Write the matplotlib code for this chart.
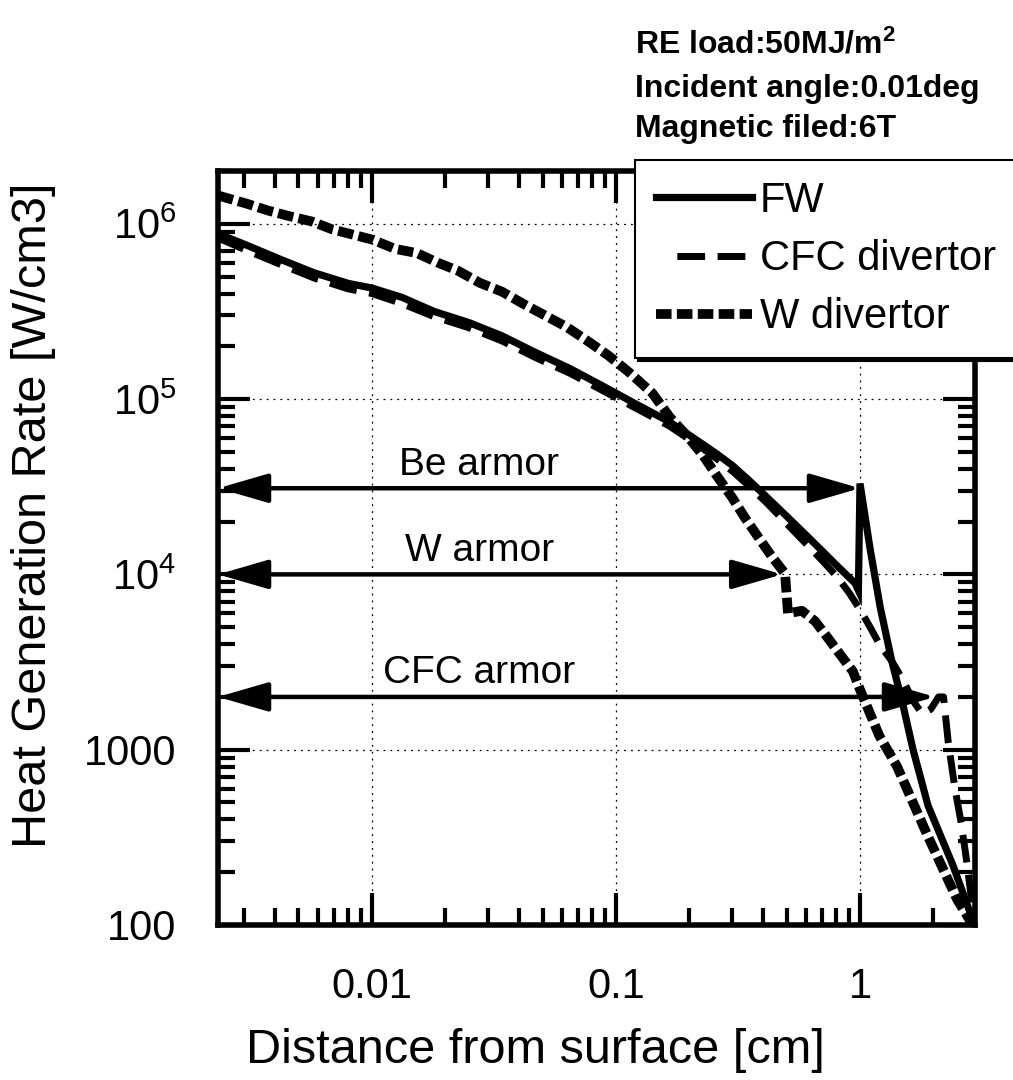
import matplotlib
matplotlib.use("Agg")
import matplotlib.pyplot as plt
from matplotlib.lines import Line2D
from matplotlib.ticker import FixedLocator, LogLocator, NullFormatter

plt.rcParams['font.family'] = ['Liberation Sans', 'DejaVu Sans']
plt.rcParams['mathtext.fontset'] = 'custom'
plt.rcParams['mathtext.rm'] = 'Liberation Sans'
plt.rcParams['mathtext.it'] = 'Liberation Sans:italic'
plt.rcParams['mathtext.bf'] = 'Liberation Sans:bold'

# ---------------- data ----------------
fw_x = [0.00234, 0.0031, 0.0043, 0.0058, 0.008, 0.01, 0.0133, 0.018, 0.025, 0.034,
        0.047, 0.065, 0.088, 0.122, 0.166, 0.228, 0.26, 0.302, 0.35, 0.416, 0.5,
        0.6, 0.7, 0.8, 0.955, 0.985, 1.0, 1.1, 1.21, 1.35, 1.5, 1.65, 1.9, 2.4, 2.95]
fw_y = [8.8e5, 7.5e5, 6.2e5, 5.25e5, 4.57e5, 4.3e5, 3.8e5, 3.16e5, 2.73e5, 2.3e5,
        1.84e5, 1.49e5, 1.19e5, 9.3e4, 7.4e4, 5.5e4, 4.85e4, 4.15e4, 3.45e4, 2.75e4, 2.15e4,
        1.68e4, 1.36e4, 1.13e4, 8.9e3, 8.1e3, 3.3e4, 1.4e4, 6.5e3, 3.2e3, 1.8e3, 1.0e3,
        480, 220, 100]

cfc_x = [0.00234, 0.0031, 0.0043, 0.0058, 0.008, 0.01, 0.0133, 0.018, 0.025, 0.034,
         0.047, 0.065, 0.088, 0.122, 0.166, 0.228, 0.26, 0.302, 0.35, 0.416, 0.5,
         0.6, 0.7, 0.8, 0.9, 1.0, 1.1, 1.2, 1.35, 1.5, 1.65, 1.8, 1.95, 2.1, 2.2,
         2.3, 2.45, 2.6, 2.75, 2.95]
cfc_y = [8.3e5, 7.0e5, 5.8e5, 4.9e5, 4.25e5, 4.0e5, 3.5e5, 2.95e5, 2.55e5, 2.15e5,
         1.72e5, 1.4e5, 1.12e5, 8.8e4, 7.0e4, 5.2e4, 4.55e4, 3.85e4, 3.2e4, 2.55e4, 1.95e4,
         1.5e4, 1.2e4, 9.8e3, 7.9e3, 6.3e3, 5.0e3, 4.0e3, 3.2e3, 2.5e3, 1.9e3, 1.6e3,
         1.7e3, 2.0e3, 2.0e3, 1.1e3, 600, 380, 220, 100]

w_x = [0.00234, 0.00308, 0.00375, 0.00453, 0.00568, 0.00686, 0.00828, 0.0101, 0.0124,
       0.0153, 0.0186, 0.0225, 0.0277, 0.0341, 0.0416, 0.0512, 0.063, 0.0767, 0.0927,
       0.114, 0.141, 0.166, 0.195, 0.228, 0.259, 0.299, 0.338, 0.389, 0.436, 0.493, 0.507,
       0.578, 0.655, 0.733, 0.828, 0.935, 1.0, 1.2, 1.42, 1.88, 2.5, 2.9]
w_y = [1.45e6, 1.30e6, 1.19e6, 1.11e6, 1.03e6, 9.3e5, 8.7e5, 8.1e5, 7.2e5,
       6.8e5, 6.0e5, 5.4e5, 4.6e5, 4.1e5, 3.5e5, 3.0e5, 2.57e5, 2.14e5, 1.78e5,
       1.41e5, 1.08e5, 7.9e4, 6.2e4, 4.75e4, 3.65e4, 2.75e4, 2.1e4, 1.58e4, 1.26e4, 1.01e4,
       6.0e3, 6.2e3, 5.4e3, 4.4e3, 3.5e3, 2.8e3, 2.2e3, 1.2e3, 800, 330, 140, 100]

armor_labels = ['Be armor', 'W armor', 'CFC armor']
armor_end = [1.0, 0.48, 2.03]
armor_level = [3.1e4, 1.0e4, 2.0e3]

x_ticks = [0.01, 0.1, 1]
x_ticklabels = ['0.01', '0.1', '1']
y_ticks = [100, 1000, 1e4, 1e5, 1e6]
y_ticklabels = ['100', '1000', '$10^4$', '$10^5$', '$10^6$']

xlim = (0.00234, 2.96)
ylim = (100, 2.0e6)

# ---------------- figure ----------------
W, H = 1013, 1080
fig = plt.figure(figsize=(W / 100, H / 100), dpi=100)
L, R, T, B = 218, 975, 171, 925
ax = fig.add_axes([L / W, 1 - B / H, (R - L) / W, (B - T) / H])
ax.set_xscale('log')
ax.set_yscale('log')
ax.set_xlim(*xlim)
ax.set_ylim(*ylim)

ax.plot(fw_x, fw_y, color='black', lw=5.2, solid_joinstyle='miter', zorder=4)
ax.plot(cfc_x, cfc_y, color='black', lw=5, ls=(0, (4, 1.8)), zorder=3)
ax.plot(w_x, w_y, color='black', lw=7, ls=(0, (1.6, 0.55)), zorder=3)

# armor arrows
for lab, xe, lv in zip(armor_labels, armor_end, armor_level):
    ax.annotate('', xy=(xe, lv), xytext=(xlim[0], lv),
                arrowprops=dict(arrowstyle='<|-|>,head_length=1.55,head_width=0.45',
                                color='black', lw=3.2, shrinkA=0, shrinkB=0,
                                mutation_scale=20), zorder=5)
    ax.annotate(lab, xy=(0.345, lv), xycoords=('axes fraction', 'data'),
                xytext=(0, 17), textcoords='offset points', ha='center', va='center',
                fontsize=28, zorder=6)

# axes styling
ax.grid(True, which='major', color='black', lw=0.9, ls=(0, (1.5, 4)))
for s in ax.spines.values():
    s.set_linewidth(4)
ax.tick_params(which='both', direction='in', top=True, right=True, width=3, labelsize=30, pad=30)
ax.tick_params(which='major', length=23)
ax.tick_params(which='minor', length=12.5)
ax.xaxis.set_major_locator(FixedLocator(x_ticks))
ax.set_xticklabels(x_ticklabels)
ax.xaxis.set_minor_locator(LogLocator(base=10, subs=range(2, 10)))
ax.xaxis.set_minor_formatter(NullFormatter())
ax.yaxis.set_major_locator(FixedLocator(y_ticks))
ax.set_yticklabels(y_ticklabels)
ax.yaxis.set_minor_locator(LogLocator(base=10, subs=range(2, 10)))
ax.yaxis.set_minor_formatter(NullFormatter())

ax.set_xlabel('Distance from surface [cm]', fontsize=35)
ax.set_ylabel('Heat Generation Rate [W/cm3]', fontsize=35)
ax.xaxis.set_label_coords((535 - L) / (R - L), -(1028 - B) / (B - T))
ax.yaxis.set_label_coords(-(L - 56) / (R - L), 1 - (515 - T) / (B - T))

handles = [Line2D([], [], color='black', lw=5.2),
           Line2D([], [], color='black', lw=5, ls=(0, (0, 3, 4, 1.8, 4, 6))),
           Line2D([], [], color='black', lw=7, ls=(0, (1.6, 0.55)))]
leg = ax.legend(handles, ['FW', 'CFC divertor', 'W divertor'],
                loc='upper left', bbox_to_anchor=(635 / W, 1 - 160 / H),
                bbox_transform=fig.transFigure, fancybox=False, edgecolor='black',
                framealpha=1, borderaxespad=0, borderpad=0.5, handlelength=2.3,
                handletextpad=0.2, labelspacing=0.44, fontsize=30,
                shadow={'color': 'black', 'alpha': 1})
leg.get_frame().set_linewidth(1.5)
leg.set_zorder(10)

# condition annotation
fig.text(635 / W, 1 - 45 / H, 'RE load:50MJ/m$\\mathbf{^{2}}$', fontsize=23, fontweight='bold',
         va='center', ha='left')
fig.text(635 / W, 1 - 89 / H, 'Incident angle:0.01deg', fontsize=23, fontweight='bold',
         va='center', ha='left')
fig.text(635 / W, 1 - 129 / H, 'Magnetic filed:6T', fontsize=23, fontweight='bold',
         va='center', ha='left')

fig.savefig('out.png', dpi=100)
